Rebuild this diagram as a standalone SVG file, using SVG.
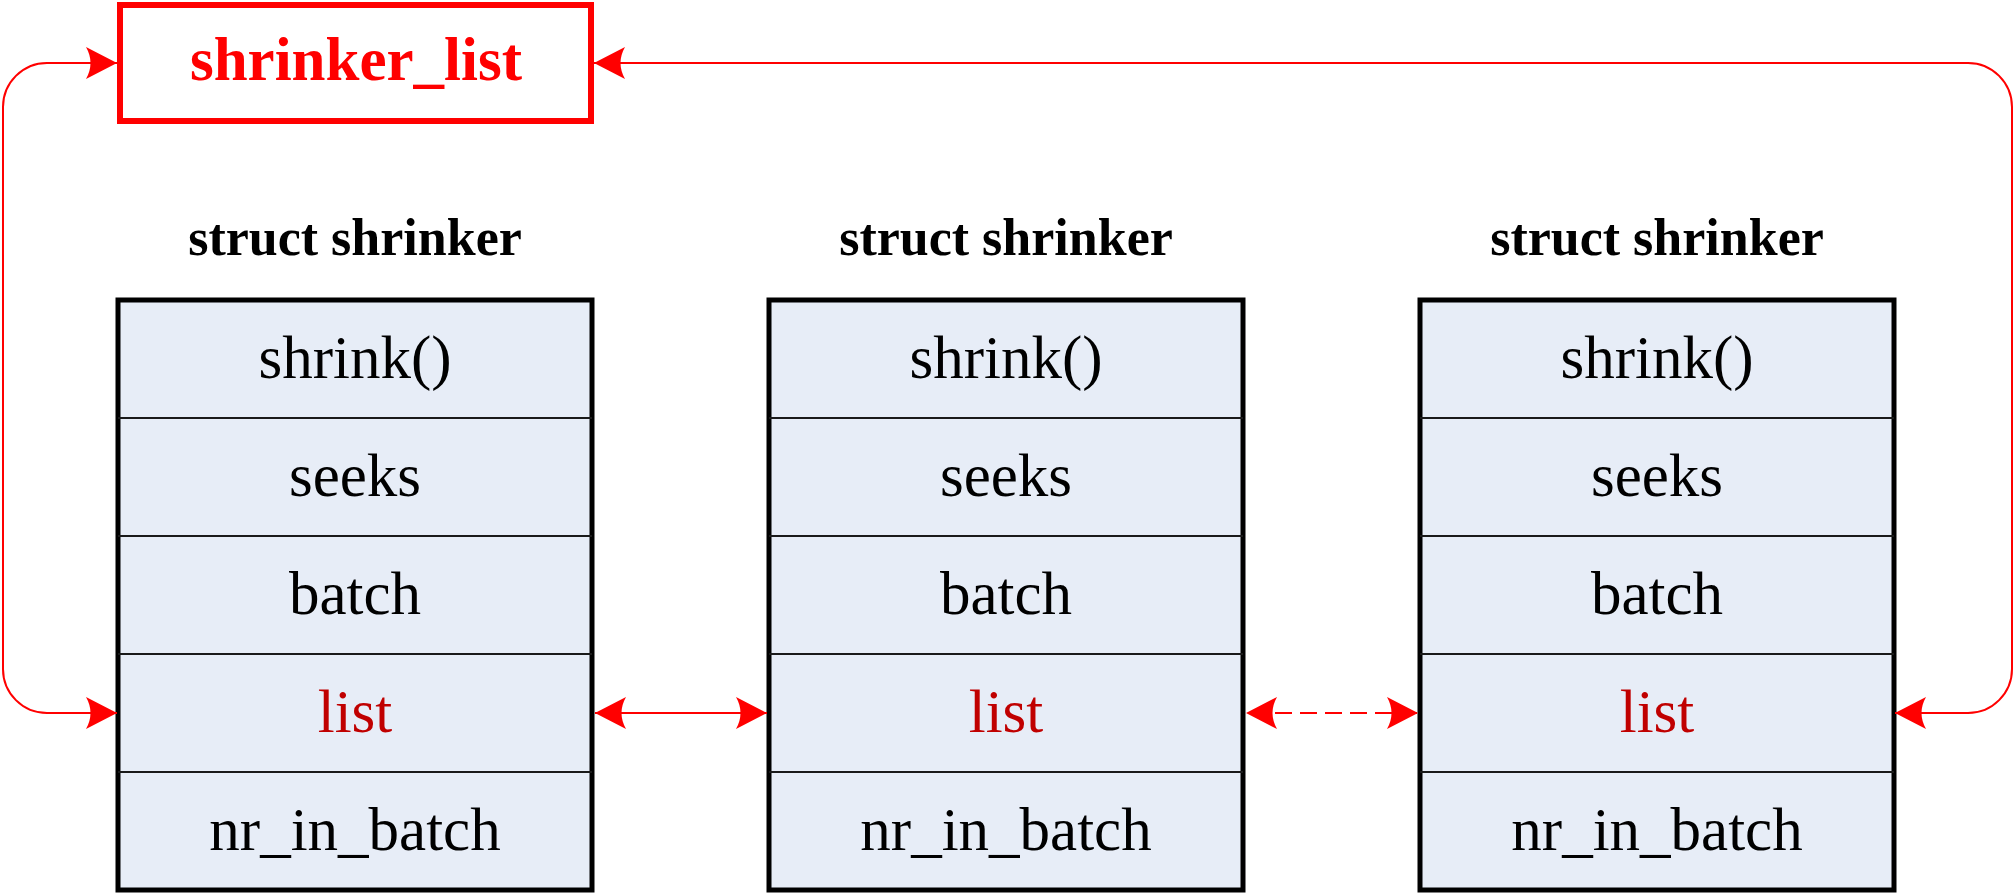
<svg xmlns="http://www.w3.org/2000/svg" width="2014" height="895" viewBox="0 0 2014 895">
  <style>
    .box { fill: #E7EDF7; stroke: #000; stroke-width: 5; }
    .div { stroke: #1a1a1a; stroke-width: 2; }
    .field { font-family: "Liberation Serif", serif; font-size: 61px; fill: #000; text-anchor: middle; }
    .lst { fill: #C00000; }
    .title { font-family: "Liberation Serif", serif; font-weight: bold; font-size: 52px; fill: #000; text-anchor: middle; }
    .head { font-family: "Liberation Serif", serif; font-weight: bold; font-size: 61px; fill: #FF0000; text-anchor: middle; }
    .conn { fill: none; stroke: #FF0000; stroke-width: 2; }
  </style>
  <defs>
    <marker id="arr" viewBox="0 -17 32 34" markerWidth="32" markerHeight="34" refX="31" refY="0" orient="auto-start-reverse" markerUnits="userSpaceOnUse">
      <path d="M 0 -16 L 31 0 L 0 16 Q 9 0 0 -16 Z" fill="#FF0000"/>
    </marker>
  </defs>
  <rect width="2014" height="895" fill="#FFFFFF"/>

  <g id="shrinker_list">
    <rect x="120" y="5" width="471" height="116" fill="#FFFFFF" stroke="#FF0000" stroke-width="6"/>
    <text class="head" x="356" y="80">shrinker_list</text>
  </g>

  <g id="shrinker1">
    <text class="title" x="355" y="255">struct shrinker</text>
    <rect class="box" x="118" y="300" width="474" height="590"/>
    <line class="div" x1="118" y1="418" x2="592" y2="418"/>
    <line class="div" x1="118" y1="536" x2="592" y2="536"/>
    <line class="div" x1="118" y1="654" x2="592" y2="654"/>
    <line class="div" x1="118" y1="772" x2="592" y2="772"/>
    <text class="field" x="355" y="378">shrink()</text>
    <text class="field" x="355" y="496">seeks</text>
    <text class="field" x="355" y="614">batch</text>
    <text class="field lst" x="355" y="732">list</text>
    <text class="field" x="355" y="850">nr_in_batch</text>
  </g>

  <g id="shrinker2">
    <text class="title" x="1006" y="255">struct shrinker</text>
    <rect class="box" x="769" y="300" width="474" height="590"/>
    <line class="div" x1="769" y1="418" x2="1243" y2="418"/>
    <line class="div" x1="769" y1="536" x2="1243" y2="536"/>
    <line class="div" x1="769" y1="654" x2="1243" y2="654"/>
    <line class="div" x1="769" y1="772" x2="1243" y2="772"/>
    <text class="field" x="1006" y="378">shrink()</text>
    <text class="field" x="1006" y="496">seeks</text>
    <text class="field" x="1006" y="614">batch</text>
    <text class="field lst" x="1006" y="732">list</text>
    <text class="field" x="1006" y="850">nr_in_batch</text>
  </g>

  <g id="shrinker3">
    <text class="title" x="1657" y="255">struct shrinker</text>
    <rect class="box" x="1420" y="300" width="474" height="590"/>
    <line class="div" x1="1420" y1="418" x2="1894" y2="418"/>
    <line class="div" x1="1420" y1="536" x2="1894" y2="536"/>
    <line class="div" x1="1420" y1="654" x2="1894" y2="654"/>
    <line class="div" x1="1420" y1="772" x2="1894" y2="772"/>
    <text class="field" x="1657" y="378">shrink()</text>
    <text class="field" x="1657" y="496">seeks</text>
    <text class="field" x="1657" y="614">batch</text>
    <text class="field lst" x="1657" y="732">list</text>
    <text class="field" x="1657" y="850">nr_in_batch</text>
  </g>

  <g id="connectors">
    <path class="conn" d="M 117 713 H 47 A 44 44 0 0 1 3 669 V 107 A 44 44 0 0 1 47 63 H 117" marker-start="url(#arr)" marker-end="url(#arr)"/>
    <path class="conn" d="M 594 63 H 1968 A 44 44 0 0 1 2012 107 V 669 A 44 44 0 0 1 1968 713 H 1895" marker-start="url(#arr)" marker-end="url(#arr)"/>
    <path class="conn" d="M 595 713 H 767" marker-start="url(#arr)" marker-end="url(#arr)"/>
    <path class="conn" d="M 1246 713 H 1418" stroke-dasharray="17 8" stroke-dashoffset="-4" marker-start="url(#arr)" marker-end="url(#arr)"/>
  </g>
</svg>
